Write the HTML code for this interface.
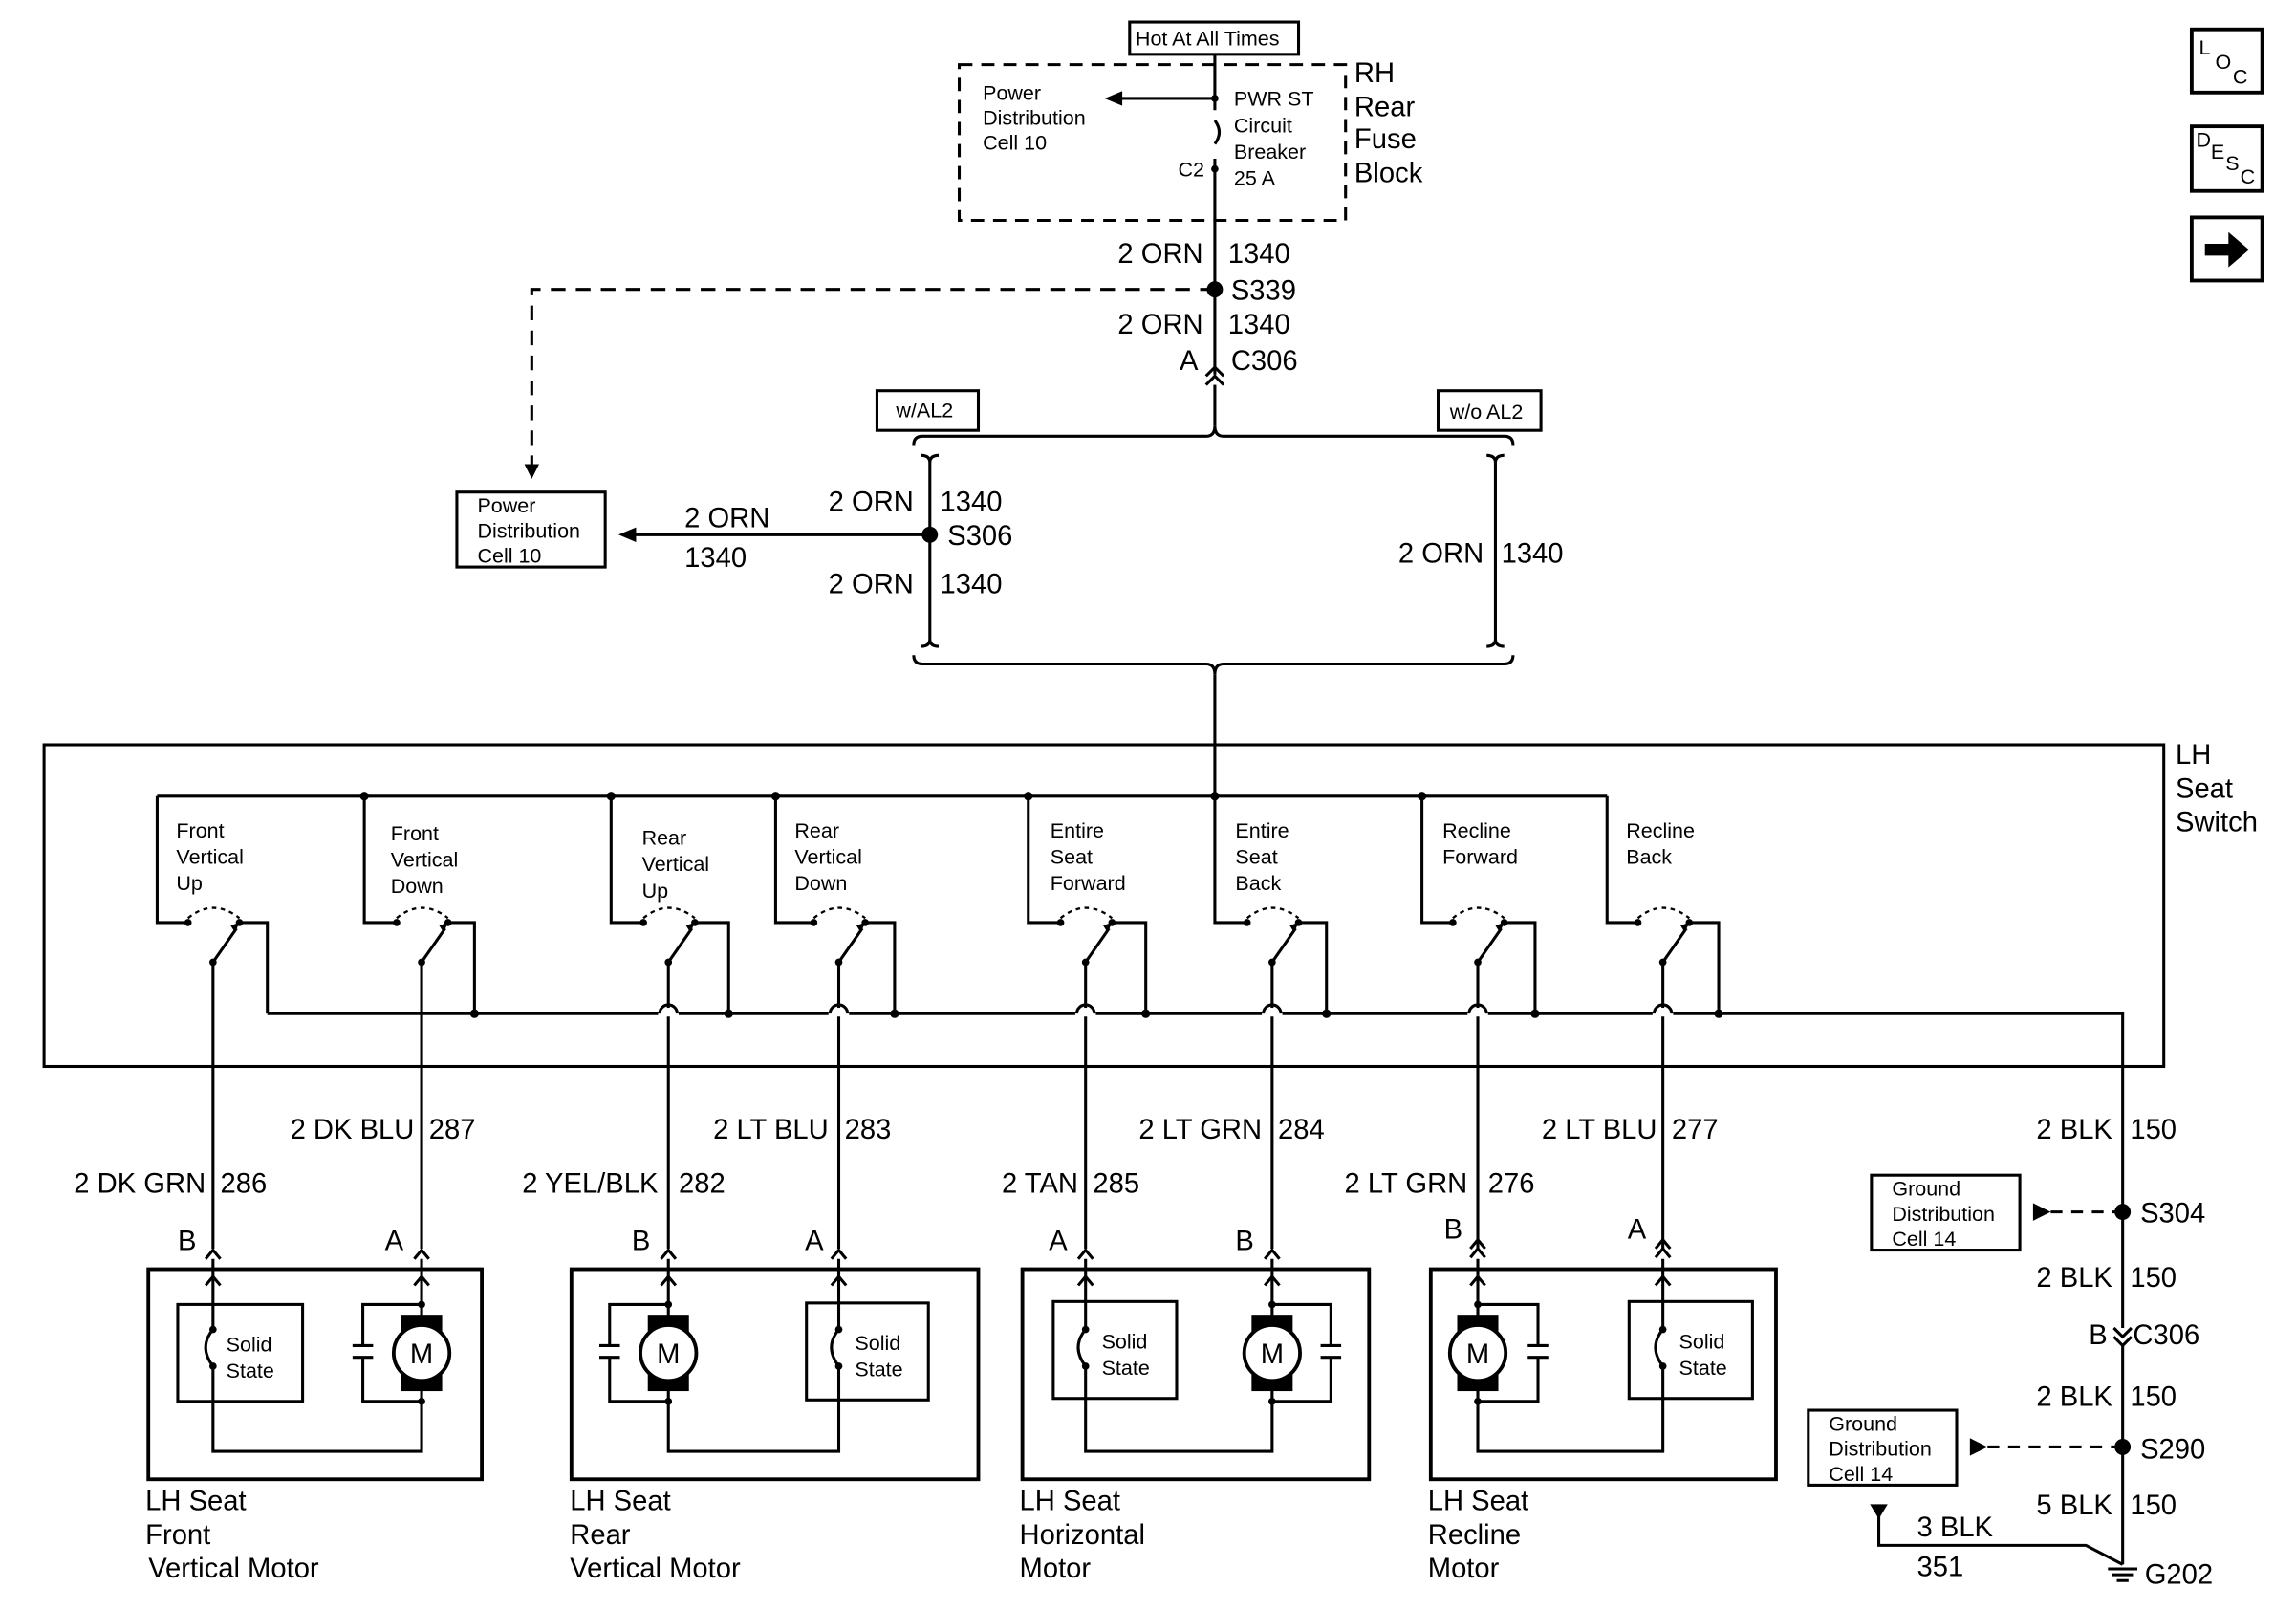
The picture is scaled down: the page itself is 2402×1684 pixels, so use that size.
<!DOCTYPE html>
<html><head><meta charset="utf-8"><style>
html,body{margin:0;padding:0;background:#fff}
svg{display:block}
text{font-family:"Liberation Sans",sans-serif;fill:#000}
.s{font-size:14px}
.w{font-size:19px}
.r{text-anchor:end}
</style></head><body>
<svg width="2402" height="1684" viewBox="0 0 1563 1096" preserveAspectRatio="none" xmlns="http://www.w3.org/2000/svg">
<defs>
<g id="motor">
  <rect x="-14" y="-5" width="28" height="12" fill="#000"/>
  <rect x="-14" y="35" width="28" height="12" fill="#000"/>
  <circle cx="0" cy="21" r="19" fill="#fff" stroke="#000" stroke-width="2.5"/>
  <text x="0" y="28" class="w" text-anchor="middle">M</text>
</g>
</defs>
<g fill="none" stroke="#000" stroke-width="2">
<rect x="769" y="15" width="115" height="22"/>
<rect x="653" y="44" width="263" height="106" stroke-dasharray="9,6"/>
<path d="M827 37V75 M827 82 q6 8 0 16 M827 108V255"/>
<path d="M827 67H762"/>
<path d="M827 197H362V318" stroke-dasharray="10,7"/>
<path d="M821 262l6-6 6 6 M821 256l6-6 6 6"/>
<path d="M827 262V290"/>
<path d="M622 303q0-6 6-6H821q6 0 6-7 0 7 6 7H1024q6 0 6 6"/>
<rect x="597" y="266" width="69" height="27"/>
<rect x="979" y="266" width="70" height="27"/>
<path d="M627 310q6 0 6 5V435q0 5-6 5 M639 310q-6 0-6 5 M639 440q-6 0-6-5"/>
<path d="M1012 310q6 0 6 5V435q0 5-6 5 M1024 310q-6 0-6 5 M1024 440q-6 0-6-5"/>
<path d="M633 364H432"/>
<rect x="311" y="335" width="101" height="51"/>
<path d="M622 446q0 6 6 6H821q6 0 6 7 0-7 6-7H1024q6 0 6-6"/>
<path d="M827 459V542"/>
<rect x="30" y="507" width="1443" height="219"/>
<path d="M107 542H1094"/>
<path d="M182 690H1445V1065"/>
</g>
<g fill="#000">
<path d="M752 67l12-5v10z"/>
<path d="M357 316h10l-5 10z"/>
<path d="M421 364l12-5v10z"/>
<circle cx="827" cy="197" r="5.5"/>
<circle cx="633" cy="364" r="5.5"/>
<circle cx="827" cy="67" r="2.5"/><circle cx="827" cy="115" r="2.5"/>
</g>
<text class="s" x="669" y="68">Power</text>
<text class="s" x="669" y="85">Distribution</text>
<text class="s" x="669" y="102">Cell 10</text>
<text class="s" x="773" y="31">Hot At All Times</text>
<text class="s" x="840" y="72">PWR ST</text>
<text class="s" x="840" y="90">Circuit</text>
<text class="s" x="840" y="108">Breaker</text>
<text class="s" x="840" y="126">25 A</text>
<text class="s" x="802" y="120">C2</text>
<text class="w" x="922" y="56">RH</text>
<text class="w" x="922" y="79">Rear</text>
<text class="w" x="922" y="101">Fuse</text>
<text class="w" x="922" y="124">Block</text>
<text class="w r" x="819" y="179">2 ORN</text><text class="w" x="836" y="179">1340</text>
<text class="w" x="838" y="204">S339</text>
<text class="w r" x="819" y="227">2 ORN</text><text class="w" x="836" y="227">1340</text>
<text class="w" x="803" y="252">A</text><text class="w" x="838" y="252">C306</text>
<text class="s" x="610" y="284">w/AL2</text>
<text class="s" x="987" y="285">w/o AL2</text>
<text class="w r" x="622" y="348">2 ORN</text><text class="w" x="640" y="348">1340</text>
<text class="w" x="645" y="371">S306</text>
<text class="w r" x="622" y="404">2 ORN</text><text class="w" x="640" y="404">1340</text>
<text class="w" x="466" y="359">2 ORN</text><text class="w" x="466" y="386">1340</text>
<text class="s" x="325" y="349">Power</text>
<text class="s" x="325" y="366">Distribution</text>
<text class="s" x="325" y="383">Cell 10</text>
<text class="w r" x="1010" y="383">2 ORN</text><text class="w" x="1022" y="383">1340</text>
<text class="w" x="1481" y="520">LH</text>
<text class="w" x="1481" y="543">Seat</text>
<text class="w" x="1481" y="566">Switch</text>

<g fill="none" stroke="#000" stroke-width="2">
<path d="M107 542V628H128 M163 628H182V690 M145 655V850 M145 655L161 632"/>
<path d="M248 542V628H270 M305 628H323V690 M287 655V850 M287 655L303 632"/>
<path d="M416 542V628H438 M473 628H496V690 M455 655V850 M455 655L471 632"/>
<path d="M528 542V628H554 M589 628H609V690 M571 655V850 M571 655L587 632"/>
<path d="M700 542V628H722 M757 628H780V690 M739 655V850 M739 655L755 632"/>
<path d="M827 542V628H849 M884 628H903V690 M866 655V850 M866 655L882 632"/>
<path d="M968 542V628H989 M1024 628H1045V690 M1006 655V850 M1006 655L1022 632"/>
<path d="M1094 542V628H1115 M1150 628H1170V690 M1132 655V850 M1132 655L1148 632"/>
<g stroke-dasharray="3,3" stroke-width="1.5">
<path d="M128 625q17-14 35 0"/><path d="M270 625q17-14 35 0"/><path d="M438 625q17-14 35 0"/><path d="M554 625q17-14 35 0"/>
<path d="M722 625q17-14 35 0"/><path d="M849 625q17-14 35 0"/><path d="M989 625q17-14 35 0"/><path d="M1115 625q17-14 35 0"/>
</g>
</g>
<g fill="#000">
<path d="M163 628l-6 2 3 5z M305 628l-6 2 3 5z M473 628l-6 2 3 5z M589 628l-6 2 3 5z M757 628l-6 2 3 5z M884 628l-6 2 3 5z M1024 628l-6 2 3 5z M1150 628l-6 2 3 5z"/>
</g>
<g fill="#fff">
<rect x="448" y="686" width="14" height="6"/><rect x="564" y="686" width="14" height="6"/>
<rect x="732" y="686" width="14" height="6"/><rect x="859" y="686" width="14" height="6"/><rect x="999" y="686" width="14" height="6"/><rect x="1125" y="686" width="14" height="6"/>
</g>
<g fill="none" stroke="#000" stroke-width="2">
<path d="M449 690a6 6 0 0 1 12 0 M565 690a6 6 0 0 1 12 0 M733 690a6 6 0 0 1 12 0 M860 690a6 6 0 0 1 12 0 M1000 690a6 6 0 0 1 12 0 M1126 690a6 6 0 0 1 12 0"/>
</g>
<g fill="#000">
<circle cx="323" cy="690" r="3"/><circle cx="496" cy="690" r="3"/><circle cx="609" cy="690" r="3"/><circle cx="780" cy="690" r="3"/>
<circle cx="903" cy="690" r="3"/><circle cx="1045" cy="690" r="3"/><circle cx="1170" cy="690" r="3"/>
<circle cx="248" cy="542" r="3"/><circle cx="416" cy="542" r="3"/><circle cx="528" cy="542" r="3"/><circle cx="700" cy="542" r="3"/><circle cx="827" cy="542" r="3"/><circle cx="968" cy="542" r="3"/>
<circle cx="128" cy="628" r="2.5"/><circle cx="163" cy="628" r="2.5"/><circle cx="145" cy="655" r="2.5"/>
<circle cx="270" cy="628" r="2.5"/><circle cx="305" cy="628" r="2.5"/><circle cx="287" cy="655" r="2.5"/>
<circle cx="438" cy="628" r="2.5"/><circle cx="473" cy="628" r="2.5"/><circle cx="455" cy="655" r="2.5"/>
<circle cx="554" cy="628" r="2.5"/><circle cx="589" cy="628" r="2.5"/><circle cx="571" cy="655" r="2.5"/>
<circle cx="722" cy="628" r="2.5"/><circle cx="757" cy="628" r="2.5"/><circle cx="739" cy="655" r="2.5"/>
<circle cx="849" cy="628" r="2.5"/><circle cx="884" cy="628" r="2.5"/><circle cx="866" cy="655" r="2.5"/>
<circle cx="989" cy="628" r="2.5"/><circle cx="1024" cy="628" r="2.5"/><circle cx="1006" cy="655" r="2.5"/>
<circle cx="1115" cy="628" r="2.5"/><circle cx="1150" cy="628" r="2.5"/><circle cx="1132" cy="655" r="2.5"/>
</g>
<text class="s" x="120" y="570">Front</text><text class="s" x="120" y="588">Vertical</text><text class="s" x="120" y="606">Up</text>
<text class="s" x="266" y="572">Front</text><text class="s" x="266" y="590">Vertical</text><text class="s" x="266" y="608">Down</text>
<text class="s" x="437" y="575">Rear</text><text class="s" x="437" y="593">Vertical</text><text class="s" x="437" y="611">Up</text>
<text class="s" x="541" y="570">Rear</text><text class="s" x="541" y="588">Vertical</text><text class="s" x="541" y="606">Down</text>
<text class="s" x="715" y="570">Entire</text><text class="s" x="715" y="588">Seat</text><text class="s" x="715" y="606">Forward</text>
<text class="s" x="841" y="570">Entire</text><text class="s" x="841" y="588">Seat</text><text class="s" x="841" y="606">Back</text>
<text class="s" x="982" y="570">Recline</text><text class="s" x="982" y="588">Forward</text>
<text class="s" x="1107" y="570">Recline</text><text class="s" x="1107" y="588">Back</text>

<text class="w r" x="140" y="812">2 DK GRN</text><text class="w" x="150" y="812">286</text>
<text class="w r" x="282" y="775">2 DK BLU</text><text class="w" x="292" y="775">287</text>
<text class="w r" x="448" y="812">2 YEL/BLK</text><text class="w" x="462" y="812">282</text>
<text class="w r" x="564" y="775">2 LT BLU</text><text class="w" x="575" y="775">283</text>
<text class="w r" x="734" y="812">2 TAN</text><text class="w" x="744" y="812">285</text>
<text class="w r" x="859" y="775">2 LT GRN</text><text class="w" x="870" y="775">284</text>
<text class="w r" x="999" y="812">2 LT GRN</text><text class="w" x="1013" y="812">276</text>
<text class="w r" x="1128" y="775">2 LT BLU</text><text class="w" x="1138" y="775">277</text>
<text class="w r" x="1438" y="775">2 BLK</text><text class="w" x="1450" y="775">150</text>
<text class="w" x="121" y="851">B</text><text class="w" x="262" y="851">A</text><text class="w" x="430" y="851">B</text><text class="w" x="548" y="851">A</text>
<text class="w" x="714" y="851">A</text><text class="w" x="841" y="851">B</text><text class="w" x="983" y="843">B</text><text class="w" x="1108" y="843">A</text>
<g fill="none" stroke="#000" stroke-width="2">
<path d="M140 857l5-6 5 6 M282 857l5-6 5 6 M450 857l5-6 5 6 M566 857l5-6 5 6 M734 857l5-6 5 6 M861 857l5-6 5 6 M1001 850l5-6 5 6 M1001 856l5-6 5 6 M1127 850l5-6 5 6 M1127 856l5-6 5 6"/>
<path d="M140 875l5-6 5 6 M282 875l5-6 5 6 M450 875l5-6 5 6 M566 875l5-6 5 6 M734 875l5-6 5 6 M861 875l5-6 5 6 M1001 875l5-6 5 6 M1127 875l5-6 5 6"/>
<rect x="101" y="864" width="227" height="143" stroke-width="2.5"/>
<rect x="389" y="864" width="277" height="143" stroke-width="2.5"/>
<rect x="696" y="864" width="236" height="143" stroke-width="2.5"/>
<rect x="974" y="864" width="235" height="143" stroke-width="2.5"/>
<rect x="121" y="888" width="85" height="66"/>
<rect x="549" y="887" width="83" height="66"/>
<rect x="717" y="886" width="84" height="66"/>
<rect x="1109" y="886" width="84" height="66"/>
<path d="M145 857V905 M145 930V988H287V941 M287 857V901 M145 905q-10 12 0 25"/>
<path d="M287 888H247V916 M240 916H254 M240 924H254 M247 924V954H287"/>
<path d="M571 857V905 M571 930V988H455V941 M455 857V901 M571 905q-10 12 0 25"/>
<path d="M455 888H415V916 M408 916H422 M408 924H422 M415 924V954H455"/>
<path d="M739 857V905 M739 930V988H866V941 M866 857V901 M739 905q-10 12 0 25"/>
<path d="M866 888H906V916 M899 916H913 M899 924H913 M906 924V954H866"/>
<path d="M1132 857V905 M1132 930V988H1006V941 M1006 857V901 M1132 905q-10 12 0 25"/>
<path d="M1006 888H1047V916 M1040 916H1054 M1040 924H1054 M1047 924V954H1006"/>
</g>
<use href="#motor" x="287" y="900"/>
<use href="#motor" x="455" y="900"/>
<use href="#motor" x="866" y="900"/>
<use href="#motor" x="1006" y="900"/>
<g fill="#000"><circle cx="287" cy="888" r="2.5"/><circle cx="287" cy="954" r="2.5"/><circle cx="455" cy="888" r="2.5"/><circle cx="455" cy="954" r="2.5"/><circle cx="866" cy="888" r="2.5"/><circle cx="866" cy="954" r="2.5"/><circle cx="1006" cy="888" r="2.5"/><circle cx="1006" cy="954" r="2.5"/>
<circle cx="145" cy="905" r="2.5"/><circle cx="145" cy="930" r="2.5"/><circle cx="571" cy="905" r="2.5"/><circle cx="571" cy="930" r="2.5"/><circle cx="739" cy="905" r="2.5"/><circle cx="739" cy="930" r="2.5"/><circle cx="1132" cy="905" r="2.5"/><circle cx="1132" cy="930" r="2.5"/></g>
<text class="s" x="154" y="920">Solid</text><text class="s" x="154" y="938">State</text>
<text class="s" x="582" y="919">Solid</text><text class="s" x="582" y="937">State</text>
<text class="s" x="750" y="918">Solid</text><text class="s" x="750" y="936">State</text>
<text class="s" x="1143" y="918">Solid</text><text class="s" x="1143" y="936">State</text>
<text class="w" x="99" y="1028">LH Seat</text><text class="w" x="99" y="1051">Front</text><text class="w" x="101" y="1074">Vertical Motor</text>
<text class="w" x="388" y="1028">LH Seat</text><text class="w" x="388" y="1051">Rear</text><text class="w" x="388" y="1074">Vertical Motor</text>
<text class="w" x="694" y="1028">LH Seat</text><text class="w" x="694" y="1051">Horizontal</text><text class="w" x="694" y="1074">Motor</text>
<text class="w" x="972" y="1028">LH Seat</text><text class="w" x="972" y="1051">Recline</text><text class="w" x="972" y="1074">Motor</text>
<g fill="none" stroke="#000" stroke-width="2">
<rect x="1274" y="800" width="101" height="51"/>
<rect x="1231" y="960" width="101" height="51"/>
<path d="M1396 825H1445 M1353 985H1445" stroke-dasharray="8,6"/>
<path d="M1439 904l6 6 6-6 M1439 910l6 6 6-6" fill="#fff"/>
<path d="M1279 1030V1052H1420L1445 1065"/>
<path d="M1435 1068H1455 M1438 1072H1452 M1441 1076H1449"/>
</g>
<g fill="#000">
<circle cx="1445" cy="825" r="5.5"/><circle cx="1445" cy="985" r="5.5"/>
<path d="M1384 819v12l12-6z"/><path d="M1341 979v12l12-6z"/>
<path d="M1273 1024h12l-6 10z"/>
</g>
<text class="s" x="1288" y="814">Ground</text><text class="s" x="1288" y="831">Distribution</text><text class="s" x="1288" y="848">Cell 14</text>
<text class="s" x="1245" y="974">Ground</text><text class="s" x="1245" y="991">Distribution</text><text class="s" x="1245" y="1008">Cell 14</text>
<text class="w" x="1457" y="832">S304</text>
<text class="w r" x="1438" y="876">2 BLK</text><text class="w" x="1450" y="876">150</text>
<text class="w" x="1422" y="915">B</text><text class="w" x="1452" y="915">C306</text>
<text class="w r" x="1438" y="957">2 BLK</text><text class="w" x="1450" y="957">150</text>
<text class="w" x="1457" y="993">S290</text>
<text class="w r" x="1438" y="1031">5 BLK</text><text class="w" x="1450" y="1031">150</text>
<text class="w" x="1305" y="1046">3 BLK</text><text class="w" x="1305" y="1073">351</text>
<text class="w" x="1460" y="1078">G202</text>
<g fill="none" stroke="#000" stroke-width="2.5">
<rect x="1492" y="20" width="48" height="43"/>
<rect x="1492" y="86" width="48" height="44"/>
<rect x="1492" y="148" width="48" height="43"/>
</g>
<text class="s" x="1497" y="37">L</text><text class="s" x="1508" y="47">O</text><text class="s" x="1520" y="57">C</text>
<text class="s" x="1495" y="100">D</text><text class="s" x="1505" y="108">E</text><text class="s" x="1515" y="116">S</text><text class="s" x="1525" y="125">C</text>
<path d="M1501 166h16v-8l14 12-14 12v-8h-16z" fill="#000"/>
</svg>
</body></html>
